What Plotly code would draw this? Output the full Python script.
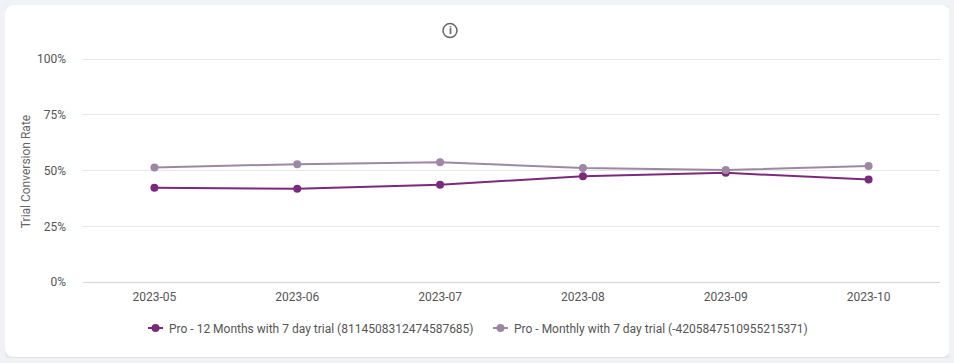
import plotly.graph_objects as go

months = ["2023-05", "2023-06", "2023-07", "2023-08", "2023-09", "2023-10"]
annual_name = "Pro - 12 Months with 7 day trial (8114508312474587685)"
annual_values = [42.3, 41.9, 43.6, 47.5, 49.0, 46.0]
monthly_name = "Pro - Monthly with 7 day trial (-4205847510955215371)"
monthly_values = [51.4, 52.9, 53.8, 51.2, 50.3, 52.1]
y_ticks = [0, 25, 50, 75, 100]
y_labels = ["0%", "25%", "50%", "75%", "100%"]

TEXT = "#555555"
FONT = "Roboto, sans-serif"
W, H = 945, 352
L, R, T, B = 78, 10, 51.5, 74.7


def px(v):
    return (v - L) / (W - L - R)


def py(v):
    return (H - B - v) / (H - T - B)


fig = go.Figure()
fig.add_trace(go.Scatter(x=months, y=annual_values, name=annual_name, mode="lines+markers",
                         line=dict(color="#7b2a7b", width=2), marker=dict(color="#7b2a7b", size=8)))
fig.add_trace(go.Scatter(x=months, y=monthly_values, name=monthly_name, mode="lines+markers",
                         line=dict(color="#9c88a3", width=2), marker=dict(color="#9c88a3", size=8)))

fig.update_layout(
    width=W, height=H,
    margin=dict(l=L, r=R, t=T, b=B, autoexpand=False),
    paper_bgcolor="rgba(0,0,0,0)", plot_bgcolor="rgba(0,0,0,0)",
    font=dict(family=FONT, size=12, color=TEXT),
    showlegend=True,
    legend=dict(orientation="h", x=px(130.5), xanchor="left", y=py(277 + 32), yanchor="top",
                entrywidth=300, entrywidthmode="pixels",
                font=dict(family=FONT, size=12, color=TEXT), traceorder="normal"),
    xaxis=dict(type="category", range=[-0.5, 5.5], showgrid=False, ticks="", showline=True,
               linecolor="#ccd6eb", linewidth=1, tickfont=dict(family=FONT, size=12, color=TEXT),
               zeroline=False, ticklabelstandoff=4, automargin=False),
    yaxis=dict(range=[0, 101], tickvals=y_ticks, ticktext=y_labels, gridcolor="#e6e6e6", gridwidth=1,
               zeroline=False, showline=False, ticks="", ticklabelstandoff=16, automargin=False,
               tickfont=dict(family=FONT, size=12, color=TEXT),
               title=dict(text="Trial Conversion Rate", font=dict(family=FONT, size=12, color="#666666"),
                          standoff=3)),
    shapes=[dict(type="circle", xref="paper", yref="paper", x0=px(438), x1=px(452), y0=py(32), y1=py(18),
                 line=dict(color="#666666", width=1.5), fillcolor="rgba(0,0,0,0)")],
    annotations=[dict(text="<b>i</b>", xref="paper", yref="paper", x=px(445), y=py(25), showarrow=False,
                      xanchor="center", yanchor="middle",
                      font=dict(family=FONT, size=11, color="#666666"))],
)

post = """
document.documentElement.style.background='#f0f2f5';
document.body.style.background='#f0f2f5';
document.body.style.margin='5px';
document.body.style.overflow='hidden';
var g=document.getElementById('{plot_id}');
g.style.background='#ffffff';
g.style.borderRadius='8px';
g.style.boxShadow='0 1px 5px rgba(0,0,0,0.12)';
g.querySelectorAll('.legendlines path').forEach(function(p){p.setAttribute('d','M12.5,0h15');});
g.querySelectorAll('.legendtext').forEach(function(t){t.setAttribute('x','33.5');});
g.querySelectorAll('.ytitle').forEach(function(t){t.setAttribute('transform','translate(0,2) '+(t.getAttribute('transform')||''));});
"""
fig.write_html("out.html", post_script=post)
